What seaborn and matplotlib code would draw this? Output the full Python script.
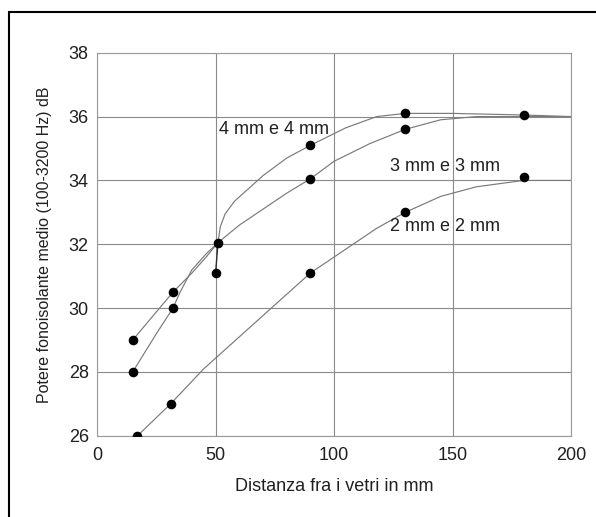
import matplotlib
matplotlib.use("Agg")
import matplotlib.pyplot as plt
import seaborn as sns
import pandas as pd
from matplotlib.patches import Rectangle

# measured points
x_4mm = [15, 32, 51, 90, 130, 180]
y_4mm = [29.0, 30.5, 32.05, 35.1, 36.1, 36.05]
x_3mm = [15, 32, 50, 90, 130]
y_3mm = [28.0, 30.0, 31.1, 34.05, 35.6]
x_2mm = [17, 31, 90, 130, 180]
y_2mm = [26.0, 27.0, 31.1, 33.0, 34.1]

# drawn curve vertices
cx_4mm = [15, 32, 40, 46, 51, 52, 54, 58, 64, 70, 80, 90, 105, 118, 130, 150, 180, 200]
cy_4mm = [29.0, 30.5, 31.1, 31.6, 32.05, 32.55, 32.95, 33.35, 33.75, 34.15, 34.7, 35.1, 35.65, 36.0, 36.1, 36.1, 36.05, 36.0]
cx_3mm = [15, 25, 32, 35, 40, 46, 51, 60, 70, 80, 90, 100, 115, 130, 145, 160, 200]
cy_3mm = [28.0, 29.2, 30.0, 30.5, 31.2, 31.7, 32.05, 32.6, 33.1, 33.6, 34.05, 34.6, 35.15, 35.6, 35.9, 36.0, 36.0]
cx_2mm = [17, 31, 45, 60, 75, 90, 105, 118, 130, 145, 160, 180, 200]
cy_2mm = [26.0, 27.0, 28.1, 29.1, 30.1, 31.1, 31.85, 32.5, 33.0, 33.5, 33.8, 34.0, 34.0]

labels = ["4 mm e 4 mm", "3 mm e 3 mm", "2 mm e 2 mm"]
label_x = [51.5, 123.5, 123.5]
label_y = [35.6, 34.45, 32.55]

x_ticks = [0, 50, 100, 150, 200]
y_ticks = [26, 28, 30, 32, 34, 36, 38]

sns.set_style("white")
plt.rcParams['font.family'] = ['Liberation Sans', 'DejaVu Sans']

fig = plt.figure(figsize=(5.96, 5.17), dpi=100)
ax = fig.add_axes([0.163, 0.157, 0.795, 0.741])

curves = [(cx_4mm, cy_4mm), (cx_3mm, cy_3mm), (cx_2mm, cy_2mm)]
for cx, cy in curves:
    df = pd.DataFrame({"x": cx, "y": cy})
    sns.lineplot(data=df, x="x", y="y", sort=False, color="#7a7a7a", lw=0.85, ax=ax, estimator=None)

# vertical segment at 50 mm
sns.lineplot(x=[x_3mm[2], x_4mm[2]], y=[y_3mm[2], y_4mm[2]], color="#303030", lw=1.0, ax=ax, estimator=None)

for xs, ys in [(x_4mm, y_4mm), (x_3mm, y_3mm), (x_2mm, y_2mm)]:
    sns.scatterplot(x=xs, y=ys, color="black", s=48, edgecolor="black", linewidth=0, ax=ax, zorder=5)

for t, lx, ly in zip(labels, label_x, label_y):
    ax.text(lx, ly, t, fontsize=13, color="#202020", va="center", ha="left")

ax.set_xlim(0, 200)
ax.set_ylim(26, 38)
ax.set_xticks(x_ticks)
ax.set_yticks(y_ticks)
ax.tick_params(labelsize=13, length=0, colors="#202020")
ax.tick_params(axis="x", pad=8)
ax.tick_params(axis="y", pad=6)
ax.grid(True, color="#8a8a8a", lw=0.8)
for s in ax.spines.values():
    s.set_color("#9a9a9a")
    s.set_linewidth(0.8)
ax.set_xlabel("Distanza fra i vetri in mm", fontsize=13, color="#202020", labelpad=10)
ax.set_ylabel("Potere fonoisolante medio (100-3200 Hz) dB", fontsize=11.5, color="#202020")
ax.yaxis.set_label_coords(-0.095, 0.5)

# scan frame
fig.patches.append(Rectangle((9/596, -0.1), 1.2, (517 - 12) / 517 + 0.1, transform=fig.transFigure,
                             fill=False, edgecolor="black", lw=1.5))

fig.savefig("out.png", dpi=100)
